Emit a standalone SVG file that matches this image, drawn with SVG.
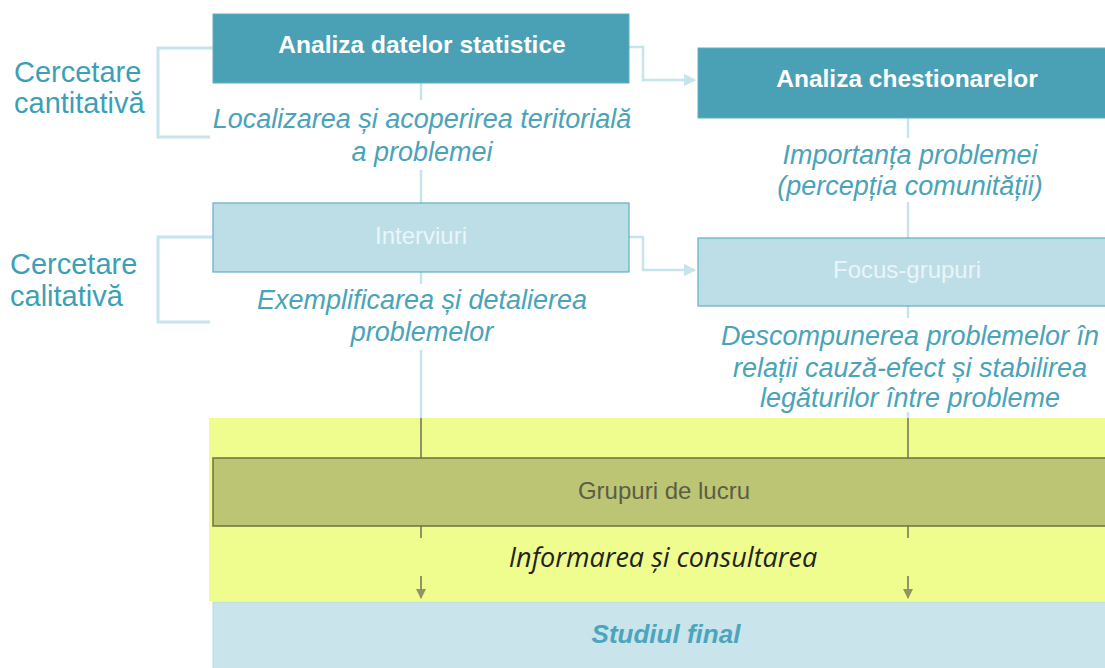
<svg xmlns="http://www.w3.org/2000/svg" width="1105" height="668" viewBox="0 0 1105 668">
<defs>
<style>
.lbl{font-family:"Liberation Sans",Arial,sans-serif;font-size:29px;fill:#3d9fb6}
.it{font-family:"Liberation Sans",Arial,sans-serif;font-size:27px;font-style:italic;fill:#4aa3b9;text-anchor:middle}
.hd{font-family:"Liberation Sans",Arial,sans-serif;font-size:24.5px;font-weight:bold;fill:#ffffff;text-anchor:middle}
.lt{font-family:"Liberation Sans",Arial,sans-serif;font-size:24px;fill:#eaf5f8;text-anchor:middle}
.dark{fill:#4aa0b5;stroke:#5fb0c2;stroke-width:1}
.light{fill:#bddee6;stroke:#5fb0c2;stroke-width:1.2}
.br{fill:none;stroke:#c6e4eb;stroke-width:3}
.ln{fill:none;stroke:#c6e4eb;stroke-width:2.5}
.ol{fill:none;stroke:#8f9462;stroke-width:2}
</style>
<marker id="ab" viewBox="0 0 10 10" refX="9" refY="5" markerWidth="5" markerHeight="5" orient="auto"><path d="M0,0 L10,5 L0,10 z" fill="#c6e4eb"/></marker>
<marker id="ao" viewBox="0 0 10 10" refX="9" refY="5" markerWidth="5" markerHeight="5" orient="auto"><path d="M0,0 L10,5 L0,10 z" fill="#8f9462"/></marker>
</defs>
<rect width="1105" height="668" fill="#ffffff"/>
<rect id="band" x="209" y="418" width="900" height="183" fill="#effc8e"/>
<g id="connectors">
<path class="br" d="M213,48 H158 V137 H210"/>
<path class="br" d="M213,237 H158 V322 H210"/>
<path class="ln" d="M629,47 H643 V80 H695" marker-end="url(#ab)"/>
<path class="ln" d="M629,237 H643 V270 H695" marker-end="url(#ab)"/>
<path class="ln" d="M421,83 V100"/>
<path class="ln" d="M421,170 V203"/>
<path class="ln" d="M421,272 V284"/>
<path class="ln" d="M421,350 V418"/>
<path class="ln" d="M908,118 V138"/>
<path class="ln" d="M908,202 V238"/>
<path class="ln" d="M908,306 V318"/>
<path class="ln" d="M908,412 V418"/>
<path class="ol" d="M421,418 V458"/>
<path class="ol" d="M908,418 V458"/>
<path class="ol" d="M421,526 V538"/>
<path class="ol" d="M908,526 V538"/>
<path class="ol" d="M421,576 V598" marker-end="url(#ao)"/>
<path class="ol" d="M908,576 V598" marker-end="url(#ao)"/>
</g>
<g id="label-cantitativa">
<text class="lbl" x="14" y="82">Cercetare</text>
<text class="lbl" x="14" y="113">cantitativă</text>
</g>
<g id="label-calitativa">
<text class="lbl" x="10" y="274">Cercetare</text>
<text class="lbl" x="10" y="306">calitativă</text>
</g>
<g id="n-statistice">
<rect class="dark" x="213" y="14" width="416" height="69"/>
<text class="hd" x="422" y="53">Analiza datelor statistice</text>
</g>
<g id="n-chestionare">
<rect class="dark" x="698" y="48" width="420" height="70"/>
<text class="hd" x="907" y="87">Analiza chestionarelor</text>
</g>
<g id="t-localizare">
<text class="it" x="422" y="128">Localizarea și acoperirea teritorială</text>
<text class="it" x="422" y="161">a problemei</text>
</g>
<g id="t-importanta">
<text class="it" x="910" y="164">Importanța problemei</text>
<text class="it" x="910" y="195">(percepția comunității)</text>
</g>
<g id="n-interviuri">
<rect class="light" x="213" y="203" width="416" height="69"/>
<text class="lt" x="421" y="244">Interviuri</text>
</g>
<g id="n-focus">
<rect class="light" x="698" y="238" width="420" height="68"/>
<text class="lt" x="907" y="278">Focus-grupuri</text>
</g>
<g id="t-exemplificare">
<text class="it" x="422" y="309">Exemplificarea și detalierea</text>
<text class="it" x="422" y="341">problemelor</text>
</g>
<g id="t-descompunere">
<text class="it" x="910" y="345">Descompunerea problemelor în</text>
<text class="it" x="910" y="377">relații cauză-efect și stabilirea</text>
<text class="it" x="910" y="407">legăturilor între probleme</text>
</g>
<g id="n-grupuri">
<rect x="213" y="458" width="900" height="68" fill="#bcc574" stroke="#6d723f" stroke-width="1.5"/>
<text x="664" y="499" font-family="Liberation Sans, Arial, sans-serif" font-size="24" fill="#5b5d45" text-anchor="middle">Grupuri de lucru</text>
</g>
<g id="t-informarea">
<text x="663" y="567" font-family="Open Sans, Liberation Sans, sans-serif" font-size="27" font-style="italic" fill="#222222" text-anchor="middle">Informarea și consultarea</text>
</g>
<g id="n-studiul">
<rect x="213" y="602" width="900" height="70" fill="#c9e4eb" stroke="#b6dbe4" stroke-width="1"/>
<text x="666" y="643" font-family="Liberation Sans, Arial, sans-serif" font-size="26" font-weight="bold" font-style="italic" fill="#4aa5bd" text-anchor="middle">Studiul final</text>
</g>
</svg>
